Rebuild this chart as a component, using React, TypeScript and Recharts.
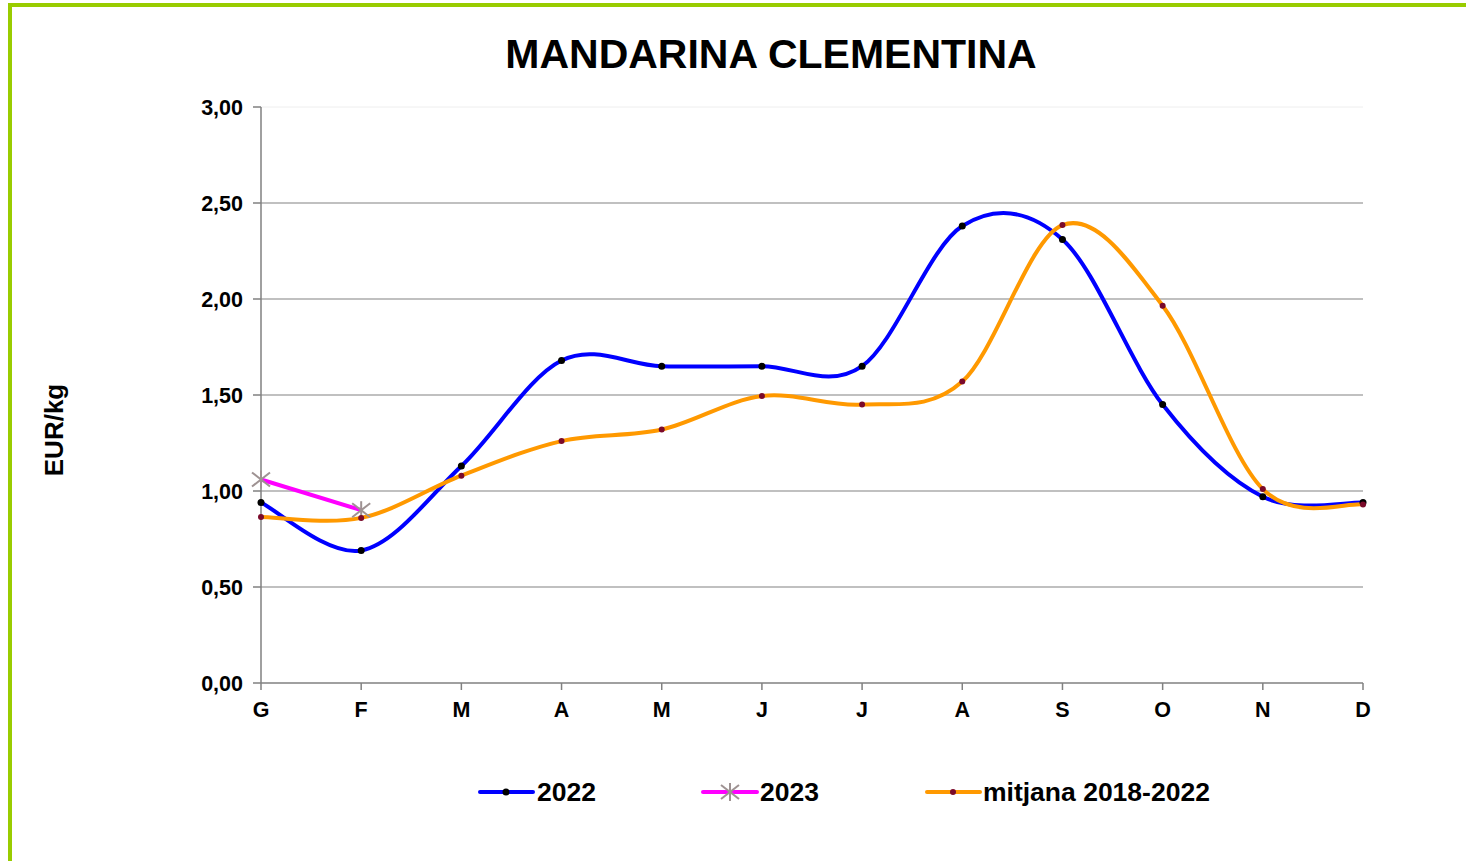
import React from "react";
import { LineChart, Line, XAxis, YAxis, CartesianGrid, ReferenceLine } from "recharts";

const months = ["G", "F", "M", "A", "M", "J", "J", "A", "S", "O", "N", "D"];
const values2022 = [0.94, 0.69, 1.13, 1.68, 1.65, 1.65, 1.65, 2.38, 2.31, 1.45, 0.97, 0.94];
const values2023: (number | null)[] = [1.06, 0.9, null, null, null, null, null, null, null, null, null, null];
const valuesMitjana = [0.865, 0.86, 1.08, 1.26, 1.32, 1.495, 1.45, 1.57, 2.385, 1.965, 1.01, 0.93];
const yTicks = [0, 0.5, 1, 1.5, 2, 2.5, 3];
const gridValues = [0.5, 1, 1.5, 2, 2.5];
const seriesNames = ["2022", "2023", "mitjana 2018-2022"];
const title = "MANDARINA CLEMENTINA";
const yLabel = "EUR/kg";

const data = months.map((m, i) => ({
  idx: i,
  month: m,
  v2022: values2022[i],
  v2023: values2023[i],
  vMit: valuesMitjana[i],
}));

const FONT = "'Liberation Sans', Arial, sans-serif";

// Excel-like smoothing (Catmull-Rom converted to cubic Bezier)
function excelCurve(context: any) {
  let pts: number[][] = [];
  return {
    areaStart() {},
    areaEnd() {},
    lineStart() {
      pts = [];
    },
    point(x: number, y: number) {
      pts.push([+x, +y]);
    },
    lineEnd() {
      const n = pts.length;
      if (!n) return;
      context.moveTo(pts[0][0], pts[0][1]);
      if (n === 1) return;
      for (let i = 0; i < n - 1; i++) {
        const p0 = pts[i - 1] || pts[i];
        const p1 = pts[i];
        const p2 = pts[i + 1];
        const p3 = pts[i + 2] || pts[i + 1];
        const c1x = p1[0] + (p2[0] - p0[0]) / 6;
        const c1y = p1[1] + (p2[1] - p0[1]) / 6;
        const c2x = p2[0] - (p3[0] - p1[0]) / 6;
        const c2y = p2[1] - (p3[1] - p1[1]) / 6;
        if (n === 2) context.lineTo(p2[0], p2[1]);
        else context.bezierCurveTo(c1x, c1y, c2x, c2y, p2[0], p2[1]);
      }
    },
  };
}

const STAR = "#9e9292";

function Asterisk(props: any) {
  const { cx, cy, index } = props;
  if (cx == null || cy == null || isNaN(cx) || isNaN(cy)) return <g key={`s-${index}`} />;
  return (
    <g key={`s-${index}`} stroke={STAR} strokeWidth={2}>
      <line x1={cx} y1={cy - 9} x2={cx} y2={cy + 9} />
      <line x1={cx - 9} y1={cy - 7} x2={cx + 9} y2={cy + 7} />
      <line x1={cx - 9} y1={cy + 7} x2={cx + 9} y2={cy - 7} />
    </g>
  );
}

const fmt = (v: number) => v.toFixed(2).replace(".", ",");

export default function App() {
  return (
    <div
      style={{
        position: "fixed",
        left: 0,
        top: 0,
        width: 1466,
        height: 861,
        overflow: "hidden",
        background: "#fff",
        fontFamily: FONT,
      }}
    >
      <div
        style={{
          position: "absolute",
          left: 8,
          top: 3,
          width: 1600,
          height: 1000,
          borderLeft: "4px solid #99cc00",
          borderTop: "4px solid #99cc00",
        }}
      />
      <div style={{ position: "absolute", left: 0, top: 0 }}>
        <LineChart
          width={1466}
          height={861}
          data={data}
          margin={{ top: 107, right: 103, bottom: 148, left: 0 }}
        >
          <CartesianGrid
            vertical={false}
            horizontalValues={gridValues}
            stroke="#c0c0c0"
            strokeWidth={2}
          />
          <ReferenceLine y={3} stroke="#eeeeee" strokeWidth={1} />
          <XAxis
            dataKey="idx"
            type="category"
            tickFormatter={(v: number) => months[v]}
            axisLine={{ stroke: "#808080", strokeWidth: 1.5 }}
            tickLine={{ stroke: "#808080", strokeWidth: 1.5 }}
            tickSize={7}
            tickMargin={12}
            height={30}
            interval={0}
            tick={{ fill: "#000", fontSize: 21.5, fontWeight: "bold", fontFamily: FONT }}
          />
          <YAxis
            domain={[0, 3]}
            ticks={yTicks}
            tickFormatter={fmt}
            width={261}
            axisLine={{ stroke: "#808080", strokeWidth: 1.5 }}
            tickLine={{ stroke: "#808080", strokeWidth: 1.5 }}
            tickSize={8}
            tickMargin={10}
            interval={0}
            tick={{ fill: "#000", fontSize: 21.5, fontWeight: "bold", fontFamily: FONT }}
          />
          <Line
            dataKey="v2022"
            type={excelCurve as any}
            stroke="#0000ff"
            strokeWidth={4}
            dot={{ r: 3.5, fill: "#000", stroke: "#000", strokeWidth: 0 }}
            isAnimationActive={false}
          />
          <Line
            dataKey="v2023"
            type={excelCurve as any}
            stroke="#ff00ff"
            strokeWidth={4}
            dot={(p: any) => <Asterisk {...p} />}
            isAnimationActive={false}
          />
          <Line
            dataKey="vMit"
            type={excelCurve as any}
            stroke="#ff9900"
            strokeWidth={4}
            dot={{ r: 3, fill: "#7a0a2a", stroke: "#7a0a2a", strokeWidth: 0 }}
            isAnimationActive={false}
          />
        </LineChart>
      </div>
      <svg
        width={1466}
        height={861}
        style={{ position: "absolute", left: 0, top: 0, pointerEvents: "none" }}
      >
        <text
          x={771}
          y={68}
          textAnchor="middle"
          fontFamily={FONT}
          fontWeight="bold"
          fontSize={41}
          fill="#000"
        >
          {title}
        </text>
        <text
          x={63}
          y={430}
          textAnchor="middle"
          fontFamily={FONT}
          fontWeight="bold"
          fontSize={26}
          fill="#000"
          transform="rotate(-90 63 430)"
        >
          {yLabel}
        </text>
        {/* legend */}
        <g>
          <line x1={480} y1={792} x2={533} y2={792} stroke="#0000ff" strokeWidth={4} strokeLinecap="round" />
          <circle cx={506} cy={792} r={3.5} fill="#000" />
          <text x={537} y={801} fontFamily={FONT} fontWeight="bold" fontSize={26.5} fill="#000">
            {seriesNames[0]}
          </text>
          <line x1={703} y1={792} x2={757} y2={792} stroke="#ff00ff" strokeWidth={4} strokeLinecap="round" />
          <g stroke={STAR} strokeWidth={2}>
            <line x1={730} y1={783} x2={730} y2={801} />
            <line x1={721} y1={785} x2={739} y2={799} />
            <line x1={721} y1={799} x2={739} y2={785} />
          </g>
          <text x={760} y={801} fontFamily={FONT} fontWeight="bold" fontSize={26.5} fill="#000">
            {seriesNames[1]}
          </text>
          <line x1={927} y1={792} x2={980} y2={792} stroke="#ff9900" strokeWidth={4} strokeLinecap="round" />
          <circle cx={953} cy={792} r={3} fill="#7a0a2a" />
          <text x={983} y={801} fontFamily={FONT} fontWeight="bold" fontSize={26.5} fill="#000">
            {seriesNames[2]}
          </text>
        </g>
      </svg>
    </div>
  );
}
